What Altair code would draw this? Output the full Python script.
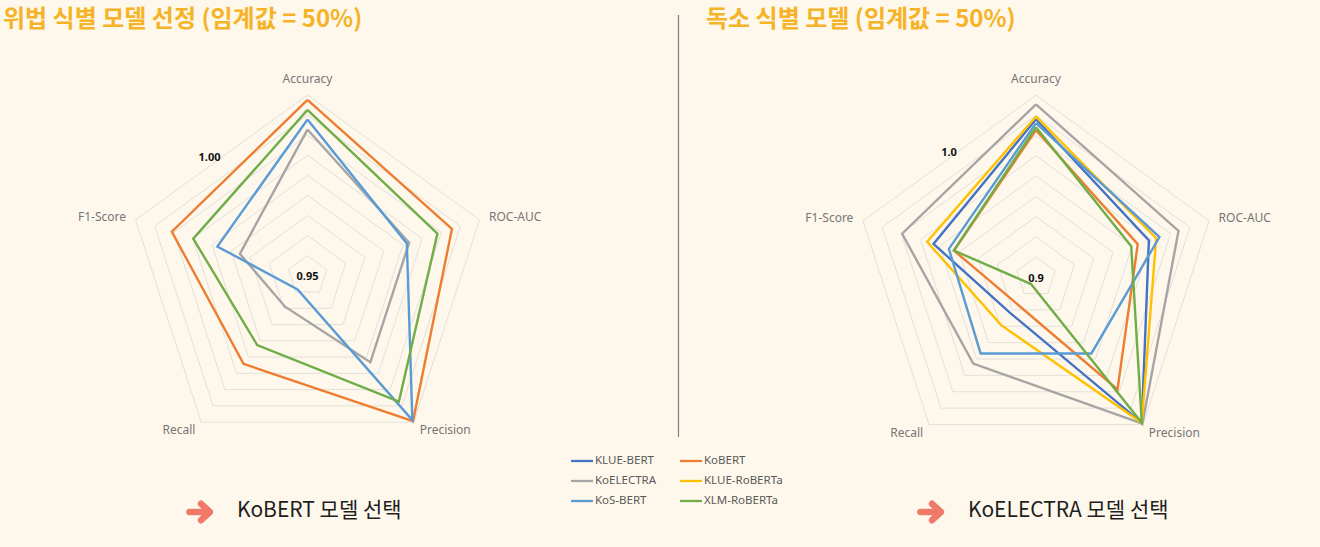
import altair as alt
import pandas as pd

W, H = 1320, 547
BG = "#FEF8EC"

metrics = ["Accuracy", "ROC-AUC", "Precision", "Recall", "F1-Score"]
models = ["KLUE-BERT", "KoBERT", "KoELECTRA", "KLUE-RoBERTa", "KoS-BERT", "XLM-RoBERTa"]
model_colors = ["#4472C4", "#ED7D31", "#A5A5A5", "#FFC000", "#5B9BD5", "#70AD47"]

# Left chart: 위법 식별 (values per metric in `metrics` order)
left_models = ["KoBERT", "KoELECTRA", "KoS-BERT", "XLM-RoBERTa"]
left_kobert = [0.9938, 0.9878, 0.9947, 0.9771, 0.9855]
left_koelectra = [0.9864, 0.9766, 0.9766, 0.9595, 0.9677]
left_kosbert = [0.9889, 0.9760, 0.9944, 0.9542, 0.9736]
left_xlmr = [0.9913, 0.9840, 0.9887, 0.9713, 0.9799]

# Right chart: 독소 식별
right_models = ["KLUE-BERT", "KoBERT", "KoELECTRA", "KLUE-RoBERTa", "KoS-BERT", "XLM-RoBERTa"]
right_kluebert = [0.9781, 0.9587, 0.9890, 0.9218, 0.9533]
right_kobert = [0.9727, 0.9529, 0.9686, 0.9162, 0.9427]
right_koelectra = [0.9855, 0.9741, 0.9895, 0.9528, 0.9696]
right_klueroberta = [0.9795, 0.9625, 0.9890, 0.9293, 0.9566]
right_kosbert = [0.9762, 0.9642, 0.9466, 0.9466, 0.9453]
right_xlmr = [0.9742, 0.9495, 0.9890, 0.9042, 0.9427]

left_title = "위법 식별 모델 선정 (임계값 = 50%)"
right_title = "독소 식별 모델 (임계값 = 50%)"
left_pick = "KoBERT 모델 선택"
right_pick = "KoELECTRA 모델 선택"
left_ticks = ["0.95", "1.00"]
right_ticks = ["0.9", "1.0"]

XS = alt.Scale(domain=[0, W], range=[0, W], nice=False, zero=False)
YS = alt.Scale(domain=[0, H], reverse=True, nice=False, zero=False)
KR = "Noto Sans CJK KR"
LAT = "Noto Sans"


def X(f="px"):
    return alt.X(f"{f}:Q", scale=XS, axis=None)


def Y(f="py"):
    return alt.Y(f"{f}:Q", scale=YS, axis=None)


def series_df(names, value_lists):
    rows = []
    for name, vals in zip(names, value_lists):
        for i, v in enumerate(list(vals) + [vals[0]]):
            rows.append({"model": name, "idx": i, "value": v})
    return pd.DataFrame(rows)


def polar(chart, cx, cy, R, vmin, vmax, extra=0):
    return chart.transform_calculate(
        r=f"(datum.value - {vmin}) / ({vmax} - {vmin}) * {R} + {extra}",
        ang="datum.idx * 2 * PI / 5",
    ).transform_calculate(
        px=f"{cx} + datum.r * sin(datum.ang)",
        py=f"{cy} - datum.r * cos(datum.ang)",
    )


def text_layer(px, py, text, **mark):
    df = pd.DataFrame({"px": [px], "py": [py], "t": [text]})
    return alt.Chart(df).mark_text(**mark).encode(x=X(), y=Y(), text="t:N")


def radar(names, value_lists, cx, cy, R, vmin, step, nrings, ticks, tick_off):
    vmax = vmin + step * nrings
    layers = []
    ring_rows = []
    for k in range(1, nrings + 1):
        for i in range(6):
            ring_rows.append({"ring": k, "idx": i, "value": vmin + k * step})
    rings = polar(alt.Chart(pd.DataFrame(ring_rows)), cx, cy, R, vmin, vmax).mark_line(
        color="#E2E0DA", strokeWidth=1
    ).encode(x=X(), y=Y(), detail="ring:N", order="idx:Q")
    layers.append(rings)

    sdf = series_df(names, value_lists)
    lines = polar(alt.Chart(sdf), cx, cy, R, vmin, vmax).mark_line(
        strokeWidth=2.4, strokeJoin="miter"
    ).encode(
        x=X(), y=Y(),
        color=alt.Color("model:N", scale=alt.Scale(domain=models, range=model_colors), legend=None),
        order="idx:Q",
    )
    layers.append(lines)

    mdf = pd.DataFrame({"metric": metrics, "idx": list(range(5)), "value": [vmax] * 5})
    base = polar(alt.Chart(mdf), cx, cy, R, vmin, vmax, extra=10)
    style = dict(font=LAT, fontSize=12, color="#767676")
    layers.append(base.transform_filter("datum.idx == 0").mark_text(align="center", baseline="bottom", dy=1, **style).encode(x=X(), y=Y(), text="metric:N"))
    layers.append(base.transform_filter("datum.idx == 1 || datum.idx == 2").mark_text(align="left", baseline="middle", **style).encode(x=X(), y=Y(), text="metric:N"))
    layers.append(base.transform_filter("datum.idx == 3 || datum.idx == 4").mark_text(align="right", baseline="middle", **style).encode(x=X(), y=Y(), text="metric:N"))

    tstyle = dict(font=LAT, fontSize=11, fontWeight="bold", color="#111111", baseline="middle", align="center")
    layers.append(text_layer(cx, cy + 1.5, ticks[0], **tstyle))
    layers.append(text_layer(cx + tick_off[0], cy + tick_off[1], ticks[1], **tstyle))
    return layers


layers = []
layers += radar(left_models, [left_kobert, left_koelectra, left_kosbert, left_xlmr],
                307.5, 275.8, 180.8, 0.95, 0.005, 9, left_ticks, (-98, -118))
layers += radar(right_models, [right_kluebert, right_kobert, right_koelectra, right_klueroberta, right_kosbert, right_xlmr],
                1036.0, 277.2, 182.0, 0.9, 0.01, 9, right_ticks, (-87, -124))

# titles
for tx, t in [(3, left_title), (706, right_title)]:
    layers.append(text_layer(tx, 20, t, font=KR, fontSize=24, fontWeight="bold", color="#F5B327", align="left", baseline="middle"))

# divider
ddf = pd.DataFrame({"px": [678.5], "py": [15], "py2": [437]})
layers.append(alt.Chart(ddf).mark_rule(color="#808080", strokeWidth=1.2).encode(x=X(), y=Y(), y2="py2:Q"))

# legend
ldf = pd.DataFrame({"model": models, "i": list(range(len(models)))})
lbase = alt.Chart(ldf).transform_calculate(
    lx="571 + (datum.i % 2) * 109",
    ly="461 + floor(datum.i / 2) * 20",
).transform_calculate(
    lx2="datum.lx + 22",
    tx="datum.lx + 24",
)
layers.append(lbase.mark_rule(strokeWidth=2.3).encode(
    x=X("lx"), x2="lx2:Q", y=Y("ly"),
    color=alt.Color("model:N", scale=alt.Scale(domain=models, range=model_colors), legend=None)))
layers.append(lbase.mark_text(font=LAT, fontSize=11.5, color="#595959", align="left", baseline="middle").encode(
    x=X("tx"), y=Y("ly"), text="model:N"))

# arrows + picks
arrow = "M-0.8,0L0.7,0M0.08,-0.62L0.75,0L0.08,0.62"
for ax, px, t in [(200, 237, left_pick), (931, 968, right_pick)]:
    adf = pd.DataFrame({"px": [ax], "py": [512]})
    layers.append(alt.Chart(adf).mark_point(shape=arrow, filled=False, size=700, stroke="#EF7A6A", strokeWidth=6.5,
                                            strokeCap="round", strokeJoin="round", opacity=1).encode(x=X(), y=Y()))
    layers.append(text_layer(px, 511, t, font=KR, fontSize=21, color="#1E1E1E", align="left", baseline="middle"))

chart = alt.layer(*layers).properties(
    width=W, height=H, autosize=alt.AutoSizeParams(type="none"), padding=0, background=BG
).configure_view(stroke=None)

chart.save("out.html", embed_options={"renderer": "svg", "actions": False})
